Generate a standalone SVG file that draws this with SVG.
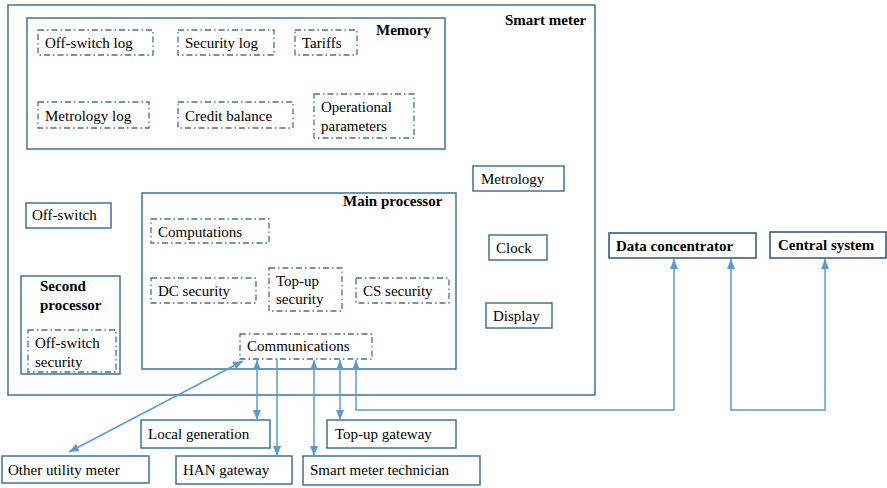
<svg xmlns="http://www.w3.org/2000/svg" width="887" height="488" viewBox="0 0 887 488" font-family="'Liberation Serif', Tinos, 'Times New Roman', Times, 'DejaVu Serif', serif">
<style>
text{font-family:'Liberation Serif',Tinos,'Times New Roman',Times,'DejaVu Serif',serif;font-size:15px;fill:#000}
.b{font-weight:bold}
.box{fill:#fff;stroke:#41719c;stroke-width:1.5}
.dbox{fill:#fff;stroke:#41719c;stroke-width:1.3;stroke-dasharray:6 3 1.5 3}
.ext{fill:#fff;stroke:#2f5275;stroke-width:1.5}
.c{fill:none;stroke:#5b9bd5;stroke-width:1.5}
</style>
<defs>
<marker id="ah" viewBox="0 0 10 10" refX="10" refY="5" markerWidth="10" markerHeight="10" markerUnits="userSpaceOnUse" orient="auto-start-reverse">
<path d="M0,1 L10,5 L0,9 Z" fill="#5b9bd5"/>
</marker>
</defs>
<g id="smart-meter"><rect class="box" x="8" y="5" width="587" height="390"/><text class="b" x="505" y="25">Smart meter</text></g>
<g id="memory"><rect class="box" x="27" y="18" width="418" height="131"/><text class="b" x="376" y="35">Memory</text></g>
<g id="off-switch-log"><rect class="dbox" x="38" y="30" width="115" height="25"/><text x="45" y="48">Off-switch log</text></g>
<g id="security-log"><rect class="dbox" x="178" y="30" width="96" height="25"/><text x="185" y="48">Security log</text></g>
<g id="tariffs"><rect class="dbox" x="295" y="30" width="62" height="25"/><text x="302" y="48">Tariffs</text></g>
<g id="metrology-log"><rect class="dbox" x="38" y="102" width="111" height="26"/><text x="45" y="121">Metrology log</text></g>
<g id="credit-balance"><rect class="dbox" x="178" y="102" width="115" height="26"/><text x="185" y="121">Credit balance</text></g>
<g id="operational-parameters"><rect class="dbox" x="314" y="94" width="100" height="44"/><text x="321" y="112">Operational</text><text x="321" y="131">parameters</text></g>
<g id="main-processor"><rect class="box" x="142" y="193" width="314" height="176"/><text class="b" x="343" y="206">Main processor</text></g>
<g id="computations"><rect class="dbox" x="151" y="219" width="118" height="24"/><text x="158" y="237">Computations</text></g>
<g id="dc-security"><rect class="dbox" x="151" y="278" width="105" height="25"/><text x="158" y="296">DC security</text></g>
<g id="top-up-security"><rect class="dbox" x="269" y="268" width="73" height="43"/><text x="276" y="286">Top-up</text><text x="276" y="304">security</text></g>
<g id="cs-security"><rect class="dbox" x="356" y="278" width="93" height="25"/><text x="363" y="296">CS security</text></g>
<g id="communications"><rect class="dbox" x="240" y="334" width="132" height="25"/><text x="247" y="351">Communications</text></g>
<g id="off-switch"><rect class="box" x="26" y="203" width="85" height="25"/><text x="32" y="220">Off-switch</text></g>
<g id="second-processor"><rect class="box" x="21" y="276" width="99" height="98"/><text class="b" x="40" y="291">Second</text><text class="b" x="40" y="310">processor</text></g>
<g id="off-switch-security"><rect class="dbox" x="28" y="330" width="88" height="42"/><text x="35" y="348">Off-switch</text><text x="35" y="367">security</text></g>
<g id="metrology"><rect class="box" x="473" y="166" width="91" height="25"/><text x="481" y="184">Metrology</text></g>
<g id="clock"><rect class="box" x="489" y="235" width="58" height="25"/><text x="496" y="253">Clock</text></g>
<g id="display"><rect class="box" x="486" y="303" width="66" height="25"/><text x="493" y="321">Display</text></g>
<g id="data-concentrator"><rect class="ext" x="609" y="233" width="147" height="25"/><text class="b" x="616" y="251">Data concentrator</text></g>
<g id="central-system"><rect class="ext" x="770" y="232" width="116" height="26"/><text class="b" x="778" y="250">Central system</text></g>
<g id="local-generation"><rect class="box" x="141" y="420" width="129" height="28"/><text x="148" y="439">Local generation</text></g>
<g id="top-up-gateway"><rect class="box" x="327" y="420" width="129" height="28"/><text x="335" y="439">Top-up gateway</text></g>
<g id="other-utility-meter"><rect class="box" x="2" y="456" width="147" height="27"/><text x="8" y="475">Other utility meter</text></g>
<g id="han-gateway"><rect class="box" x="176" y="456" width="116" height="28"/><text x="183" y="475">HAN gateway</text></g>
<g id="smart-meter-technician"><rect class="box" x="303" y="456" width="177" height="29"/><text x="310" y="475">Smart meter technician</text></g>
<g id="connectors">
<path class="c" d="M243,361 L69,452" marker-start="url(#ah)" marker-end="url(#ah)"/>
<path class="c" d="M257,360 V420" marker-start="url(#ah)" marker-end="url(#ah)"/>
<path class="c" d="M277,359 V456" marker-end="url(#ah)"/>
<path class="c" d="M314,360 V456" marker-start="url(#ah)" marker-end="url(#ah)"/>
<path class="c" d="M340,360 V420" marker-start="url(#ah)" marker-end="url(#ah)"/>
<path class="c" d="M356,360 V410 H674 V259" marker-start="url(#ah)" marker-end="url(#ah)"/>
<path class="c" d="M731,259 V410 H825 V259" marker-start="url(#ah)" marker-end="url(#ah)"/>
</g>
</svg>
